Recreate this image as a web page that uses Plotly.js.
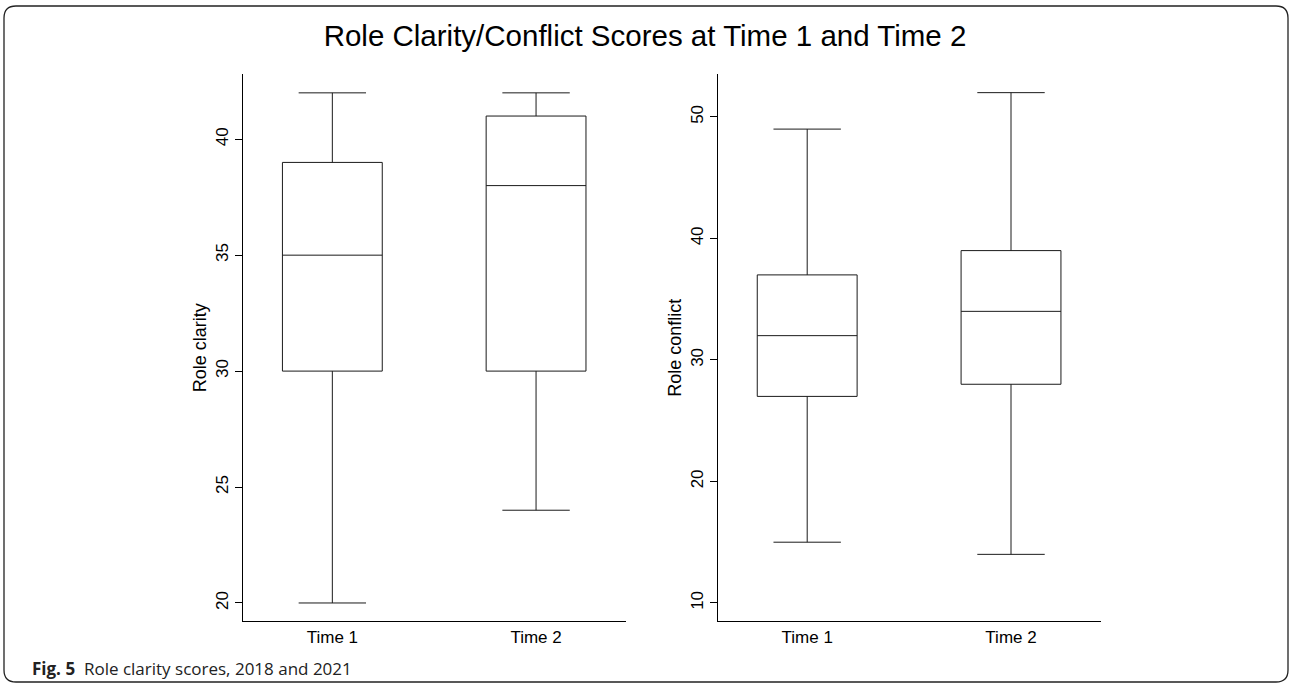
<!DOCTYPE html>
<html>
<head>
<meta charset="utf-8">
<script src="https://cdn.plot.ly/plotly-3.0.1.min.js"></script>
<style>
  html, body { margin: 0; padding: 0; background: #fff; }
  #chart { width: 1290px; height: 684px; }
</style>
</head>
<body>
<div id="chart"></div>
<script>
// ---- Data ----
const categories = ['Time 1', 'Time 2'];

const clarityMin    = [20, 24];
const clarityQ1     = [30, 30];
const clarityMedian = [35, 38];
const clarityQ3     = [39, 41];
const clarityMax    = [42, 42];

const conflictMin    = [15, 14];
const conflictQ1     = [27, 28];
const conflictMedian = [32, 34];
const conflictQ3     = [37, 39];
const conflictMax    = [49, 52];

const clarityTicks  = [20, 25, 30, 35, 40];
const conflictTicks = [10, 20, 30, 40, 50];

const titleText   = 'Role Clarity/Conflict Scores at Time 1 and Time 2';
const captionText = '<b>Fig. 5</b>  Role clarity scores, 2018 and 2021';

// ---- Chart ----
const W = 1290, H = 684;
const FONT = 'Liberation Sans, Arial, Helvetica, sans-serif';

function boxTrace(q1, med, q3, lo, hi, xa, ya) {
  return {
    type: 'box',
    x: categories,
    q1: q1, median: med, q3: q3,
    lowerfence: lo, upperfence: hi,
    boxpoints: false,
    width: 0.49,
    whiskerwidth: 0.675,
    fillcolor: '#ffffff',
    line: { color: '#1a1a1a', width: 1 },
    hoverinfo: 'skip',
    showlegend: false,
    xaxis: xa, yaxis: ya
  };
}

const traces = [
  boxTrace(clarityQ1, clarityMedian, clarityQ3, clarityMin, clarityMax, 'x', 'y'),
  boxTrace(conflictQ1, conflictMedian, conflictQ3, conflictMin, conflictMax, 'x2', 'y2')
];

const yTop = 1 - 74.3 / H, yBot = 1 - 621.3 / H;

function xAxis(d0, d1, anchor) {
  return {
    domain: [d0 / W, d1 / W],
    anchor: anchor,
    type: 'category',
    range: [-0.44, 1.44],
    showline: true, linecolor: '#000', linewidth: 1,
    showgrid: false, zeroline: false,
    ticks: '',
    tickfont: { family: FONT, size: 17, color: '#000' },
    fixedrange: true
  };
}
function yAxis(range, ticks, title, anchor) {
  return {
    domain: [yBot, yTop],
    anchor: anchor,
    range: range,
    tickvals: ticks,
    ticktext: ticks.map(String),
    tickangle: -90,
    showline: true, linecolor: '#000', linewidth: 1,
    showgrid: false, zeroline: false,
    ticks: 'outside', ticklen: 7, tickwidth: 1, tickcolor: '#000',
    tickfont: { family: FONT, size: 17, color: '#000' },
    title: { text: title, font: { family: FONT, size: 18, color: '#000' }, standoff: 1 },
    fixedrange: true
  };
}

// rounded border in paper coords
const bx0 = 4 / W, bx1 = 1288 / W, by0 = 1 - 682 / H, by1 = 1 - 6 / H;
const rx = 12 / W, ry = 12 / H;
const borderPath =
  `M ${bx0 + rx} ${by1} L ${bx1 - rx} ${by1} Q ${bx1} ${by1} ${bx1} ${by1 - ry} ` +
  `L ${bx1} ${by0 + ry} Q ${bx1} ${by0} ${bx1 - rx} ${by0} ` +
  `L ${bx0 + rx} ${by0} Q ${bx0} ${by0} ${bx0} ${by0 + ry} ` +
  `L ${bx0} ${by1 - ry} Q ${bx0} ${by1} ${bx0 + rx} ${by1} Z`;

const layout = {
  width: W, height: H,
  margin: { l: 0, r: 0, t: 0, b: 0 },
  paper_bgcolor: '#ffffff',
  plot_bgcolor: '#ffffff',
  title: {
    text: titleText,
    font: { family: FONT, size: 29.5, color: '#000' },
    x: 0.5, xanchor: 'center', xref: 'paper',
    y: 1 - 36 / H, yanchor: 'middle', yref: 'container'
  },
  xaxis:  xAxis(242.7, 625.7, 'y'),
  yaxis:  yAxis([19.21, 42.80], clarityTicks, 'Role clarity', 'x'),
  xaxis2: xAxis(717.5, 1100.7, 'y2'),
  yaxis2: yAxis([8.49, 53.51], conflictTicks, 'Role conflict', 'x2'),
  shapes: [{
    type: 'path', xref: 'paper', yref: 'paper', path: borderPath,
    line: { color: '#222', width: 1.3 }, fillcolor: 'rgba(0,0,0,0)', layer: 'below'
  }],
  annotations: [{
    text: captionText,
    xref: 'paper', yref: 'paper',
    x: 30 / W, xanchor: 'left',
    y: 1 - 668 / H, yanchor: 'middle',
    showarrow: false,
    font: { family: 'Open Sans, Noto Sans, sans-serif', size: 17, color: '#222' }
  }],
  showlegend: false
};

Plotly.newPlot('chart', traces, layout, { displayModeBar: false, staticPlot: true });
</script>
</body>
</html>
